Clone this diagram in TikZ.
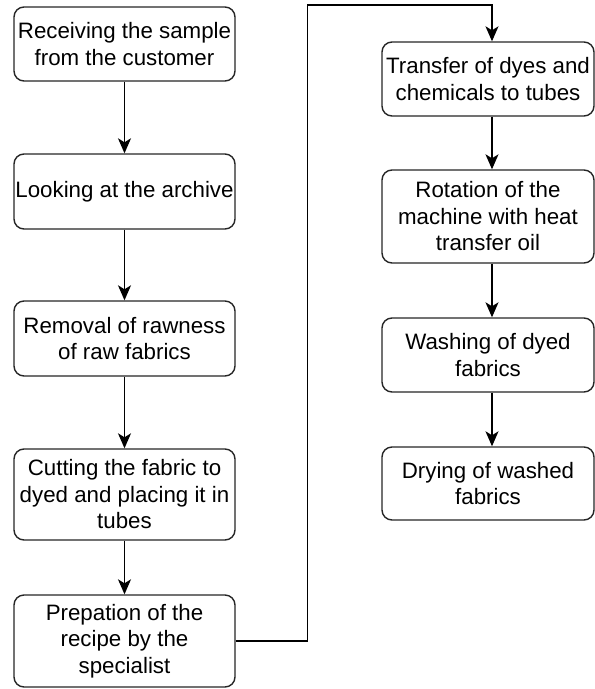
\documentclass[tikz,border=0pt]{standalone}
\usepackage{fontspec}
\setmainfont{Liberation Sans}
\usetikzlibrary{arrows.meta}
\begin{document}
\begin{tikzpicture}[x=1pt,y=-1pt,
  stepbox/.style={draw=black!85, line width=1.4pt, rounded corners=10pt,
    fill=white, align=center, inner sep=0pt,
    font=\fontsize{22.3}{26.5}\selectfont},
  lbox/.style={stepbox, minimum width=221pt},
  rbox/.style={stepbox, minimum width=212pt},
  arr/.style={line width=1.4pt, draw=black,
    -{Stealth[length=15pt,width=13pt,inset=4pt]}}]
\useasboundingbox (0,0) rectangle (595,689);
% left column
\node[lbox, minimum height=74pt] (s1) at (124.5,44) {Receiving the sample\\from the customer};
\node[lbox, minimum height=75pt] (s2) at (124.5,191.5) {Looking at the archive};
\node[lbox, minimum height=75pt] (s3) at (124.5,338.5) {Removal of rawness\\of raw fabrics};
\node[lbox, minimum height=91pt] (s4) at (124.5,494.5) {Cutting the fabric to\\dyed and placing it in\\tubes};
\node[lbox, minimum height=92pt] (s5) at (124.5,641) {Prepation of the\\recipe by the\\specialist};
% right column
\node[rbox, minimum height=74pt] (r1) at (488,79) {Transfer of dyes and\\chemicals to tubes};
\node[rbox, minimum height=93pt] (r2) at (488,216.5) {Rotation of the\\machine with heat\\transfer oil};
\node[rbox, minimum height=74pt] (r3) at (488,355) {Washing of dyed\\fabrics};
\node[rbox, minimum height=73pt] (r4) at (488,483.5) {Drying of washed\\fabrics};
% connectors
\draw[arr] (s1) -- (s2);
\draw[arr] (s2) -- (s3);
\draw[arr] (s3) -- (s4);
\draw[arr] (s4) -- (s5);
\coordinate (bend) at (307.5,5);
\draw[arr] (s5.east) -| (bend) -| ([xshift=4pt]r1.north);
\draw[arr] ([xshift=4pt]r1.south) -- ([xshift=4pt]r2.north);
\draw[arr] ([xshift=4pt]r2.south) -- ([xshift=4pt]r3.north);
\draw[arr] ([xshift=4pt]r3.south) -- ([xshift=4pt]r4.north);
\end{tikzpicture}
\end{document}
